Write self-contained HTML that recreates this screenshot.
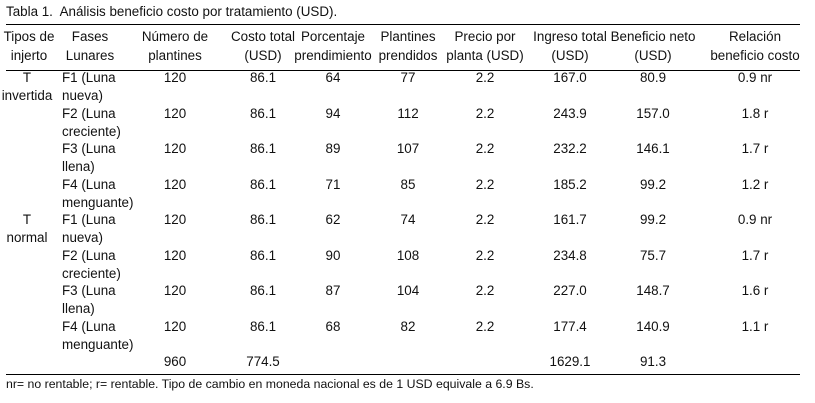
<!DOCTYPE html>
<html><head><meta charset="utf-8"><style>
body{margin:0;width:815px;height:403px;background:#fff;position:relative;overflow:hidden;font-family:"Liberation Sans",Arial,sans-serif;font-size:13.4px;color:#111}
.t{position:absolute;white-space:nowrap;line-height:16px;transform:translateY(-8px)}
.c{transform:translate(-50%,-8px)}
.ln{position:absolute;left:6px;width:794px;height:1px;background:#000}
</style></head><body>
<div class="t" style="left:6px;top:12px">Tabla 1.&nbsp; Análisis beneficio costo por tratamiento (USD).</div>
<div class="ln" style="top:24px"></div>
<div class="ln" style="top:70px"></div>
<div class="ln" style="top:374px"></div>
<div class="t" style="left:6px;top:384px;font-size:12.3px">nr= no rentable; r= rentable. Tipo de cambio en moneda nacional es de 1 USD equivale a 6.9 Bs.</div>
<div id="tbl"></div>
<script>
const cols=[25,null,175,263,333,408,485,570,653,755];
const heads=[["Tipos de","injerto"],["Fases","Lunares"],["Número de","plantines"],["Costo total","(USD)"],["Porcentaje","prendimiento"],["Plantines","prendidos"],["Precio por","planta (USD)"],["Ingreso total","(USD)"],["Beneficio neto","(USD)"],["Relación","beneficio costo"]];
const headX=[29,90,175,263,333,408,485,570,653,755];
const types=[["T","invertida"],["",""],["",""],["",""],["T","normal"],["",""],["",""],["",""]];
const phases=[["F1 (Luna","nueva)"],["F2 (Luna","creciente)"],["F3 (Luna","llena)"],["F4 (Luna","menguante)"],["F1 (Luna","nueva)"],["F2 (Luna","creciente)"],["F3 (Luna","llena)"],["F4 (Luna","menguante)"]];
const plantines=["120","120","120","120","120","120","120","120"];
const costo=["86.1","86.1","86.1","86.1","86.1","86.1","86.1","86.1"];
const porcentaje=["64","94","89","71","62","90","87","68"];
const prendidos=["77","112","107","85","74","108","104","82"];
const precio=["2.2","2.2","2.2","2.2","2.2","2.2","2.2","2.2"];
const ingreso=["167.0","243.9","232.2","185.2","161.7","234.8","227.0","177.4"];
const beneficio=["80.9","157.0","146.1","99.2","99.2","75.7","148.7","140.9"];
const relacion=["0.9 nr","1.8 r","1.7 r","1.2 r","0.9 nr","1.7 r","1.6 r","1.1 r"];
const totals=["960","774.5","1629.1","91.3"];
const tb=document.getElementById('tbl');
function put(txt,x,y,center,name){
  const d=document.createElement('div');
  d.className='t'+(center?' c':'');
  d.style.left=x+'px';d.style.top=y+'px';d.textContent=txt;
  
  
  tb.appendChild(d);
}
heads.forEach((h,i)=>{put(h[0],headX[i],37,true,'header-cell');put(h[1],headX[i],56,true,'header-cell');});
const numCols=[plantines,costo,porcentaje,prendidos,precio,ingreso,beneficio,relacion];
for(let r=0;r<8;r++){
  const y=78+35.5*r;
  if(types[r][0]){put(types[r][0],27,y,true,'graft-type');put(types[r][1],27,y+18,true,'graft-type');}
  put(phases[r][0],62,y,false,'lunar-phase');put(phases[r][1],62,y+18,false,'lunar-phase');
  numCols.forEach((arr,k)=>put(arr[r],cols[k+2],y,true,'table-cell'));
}
const ty=78+35.5*8;
put(totals[0],cols[2],ty,true,'total-plantines');
put(totals[1],cols[3],ty,true,'total-costo');
put(totals[2],cols[7],ty,true,'total-ingreso');
put(totals[3],cols[8],ty,true,'total-beneficio');
</script>
</body></html>
